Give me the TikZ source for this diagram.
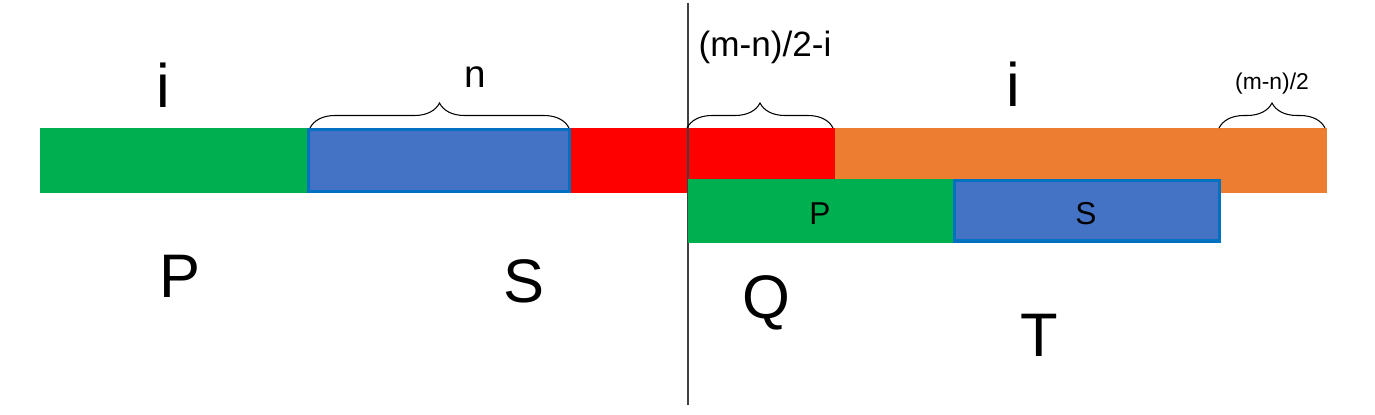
\documentclass[tikz,border=0pt]{standalone}
\usepackage{fontspec}
\setmainfont{Liberation Sans}
\usepackage{tikz}
\usetikzlibrary{decorations.pathreplacing}

\definecolor{pgreen}{HTML}{00B050}
\definecolor{sblue}{HTML}{4472C4}
\definecolor{sedge}{HTML}{0070C0}
\definecolor{qred}{HTML}{FF0000}
\definecolor{torange}{HTML}{ED7D31}

\begin{document}
\begin{tikzpicture}[
  x=0.02cm, y=-0.02cm,
  sbox/.style={draw=sedge, line width=2pt, fill=sblue},
  big/.style={anchor=base, inner sep=0pt, font=\fontsize{35}{38}\selectfont},
  mid/.style={anchor=base, inner sep=0pt, font=\fontsize{18}{20}\selectfont},
  brc/.style={decorate, decoration={brace, amplitude=0.5cm}, line width=0.6pt}
]
\useasboundingbox (0,0) rectangle (1375,415);

% top string
\fill[pgreen] (40,128) rectangle (307,193);
\fill[qred] (571,128) rectangle (835,193);
\fill[torange] (835,128) rectangle (1327,193);
\draw[sbox] (308.5,129.5) rectangle (569.5,191.5);

% split line
\draw[black!75, line width=0.7pt] (688,3) -- (688,405);

% shifted copy
\fill[pgreen] (688,179) rectangle (953,243);
\draw[sbox] (954.5,180.5) rectangle (1219.5,241);

% brace ends
\coordinate (n1) at (310,128);
\coordinate (n2) at (569,128);
\coordinate (d1) at (687,128);
\coordinate (d2) at (833,128);
\coordinate (h1) at (1219,128);
\coordinate (h2) at (1325,128);
\draw[brc] (n1) -- (n2);
\draw[brc] (d1) -- (d2);
\draw[brc] (h1) -- (h2);

% labels
\node[big] (iP) at (163,108) {i};
\node[big] (iT) at (1013,107) {i};
\node[anchor=base, inner sep=0pt, font=\fontsize{22}{24}\selectfont] (lenN) at (475,88) {n};
\node[anchor=base, inner sep=0pt, font=\fontsize{20}{22}\selectfont] (lenQ) at (765,57) {(m-n)/2-i};
\node[anchor=base, inner sep=0pt, font=\fontsize{13}{15}\selectfont] (lenH) at (1272,90) {(m-n)/2};
\node[big] (labP) at (180,297) {P};
\node[big] (labS) at (524,302) {S};
\node[big] (labQ) at (766,318) {Q};
\node[big] (labT) at (1039,356) {T};
\node[mid] (subP) at (820,224) {P};
\node[mid] (subS) at (1086,224) {S};
\end{tikzpicture}
\end{document}
